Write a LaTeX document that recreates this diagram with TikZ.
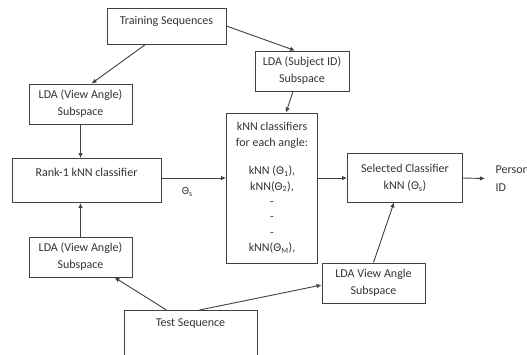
\documentclass[tikz,border=0pt]{standalone}
\usepackage{fontspec}
\setmainfont{Carlito}
\usetikzlibrary{arrows.meta}
\begin{document}
\begin{tikzpicture}[x = 1pt, y = -1pt,
	box/.style = {draw = black!75, line width = .9pt, align = center, inner sep = 3pt, text = black!80, font = \fontsize{12pt}{17pt}\selectfont},
	conn/.style = {draw = black!75, line width = .9pt, -{Latex[length = 5pt, width = 4.5pt]}}]
	\useasboundingbox (0,0) rectangle (527,354);
	\clip (0,0) rectangle (527,354);
	\node[box, minimum width = 119pt, text height = 13.5pt, text depth = 16.5pt] (train) at (166.5,26) {Training Sequences};
	\node[box, minimum width = 94pt, minimum height = 40pt] (subj) at (302,71) {LDA (Subject ID)\\ Subspace};
	\node[box, minimum width = 103pt, minimum height = 40pt] (ldatop) at (80.5,104) {LDA (View Angle)\\ Subspace};
	\node[box, minimum width = 149pt, text height = 14.5pt, text depth = 23.5pt] (rank) at (86.5,180.5) {Rank-1 kNN classifier};
	\node[box, minimum width = 91pt, minimum height = 150pt, font = \fontsize{12pt}{15.4pt}\selectfont] (knn) at (272,188) {kNN classifiers\\ for each angle:\\[13pt] kNN (Θ\textsubscript{1}),\\ kNN(Θ\textsubscript{2}),\\ -\\ -\\ -\\ kNN(Θ\textsubscript{M}),};
	\node[box, minimum width = 115pt, minimum height = 49pt] (sel) at (405,177.5) {Selected Classifier\\ kNN (Θ\textsubscript{s})};
	\node[anchor = west, align = left, inner xsep = 10.5pt, text = black!80, font = \fontsize{12pt}{18pt}\selectfont] (person) at (485,178.5) {Person\\ ID};
	\node[box, minimum width = 103pt, minimum height = 40pt] (ldabot) at (80.5,257) {LDA (View Angle)\\ Subspace};
	\node[box, minimum width = 103pt, minimum height = 40pt] (ldaright) at (373.5,283) {LDA View Angle\\ Subspace};
	\node[box, anchor = north, minimum width = 133pt, text height = 13.5pt, text depth = 50pt] (test) at (190.5,310) {Test Sequence};
	% training side
	\draw[conn] ([xshift = -21pt]train.south) -- ([xshift = 11pt]ldatop.north);
	\draw[conn] (train.east) -- ([xshift = -7pt]subj.north);
	\draw[conn] ([xshift = -9pt]subj.south) -- ([xshift = 14pt]knn.north);
	\draw[conn] (ldatop.south) -- (ldatop.south |- rank.north);
	% classifiers
	\draw[conn] (rank.east |- 0,178) -- (knn.west |- 0,178) node[pos = .4, below = 6pt, text = black!80, font = \fontsize{11pt}{13pt}\selectfont] (thetas) {Θ\textsubscript{s}};
	\draw[conn] (knn.east |- 0,178) -- (sel.west |- 0,178);
	\draw[conn] (sel.east |- 0,178) -- (person.west);
	% test side
	\draw[conn] (ldabot.north) -- (ldabot.north |- rank.south);
	\draw[conn] ([xshift = -24pt]test.north) -- ([xshift = 34pt]ldabot.south);
	\draw[conn] ([xshift = 9pt]test.north) -- ([yshift = -2pt]ldaright.west);
	\draw[conn] (ldaright.north) -- ([xshift = -11pt]sel.south);
\end{tikzpicture}
\end{document}
